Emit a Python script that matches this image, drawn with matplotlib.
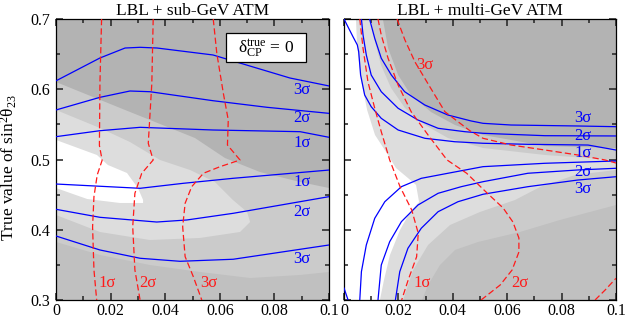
import matplotlib
matplotlib.use('Agg')
import matplotlib.pyplot as plt
from matplotlib.ticker import MultipleLocator
from matplotlib.patches import Rectangle

plt.rcParams['font.family'] = ['Liberation Serif', 'DejaVu Serif']
plt.rcParams['mathtext.fontset'] = 'custom'
plt.rcParams['mathtext.rm'] = 'Liberation Serif'
plt.rcParams['mathtext.it'] = 'Liberation Serif:italic'

# ---------------- left panel: LBL + sub-GeV ATM ----------------
# blue (solid) contours
sub_b3u_x = [0, 0.0161, 0.0253, 0.0308, 0.037, 0.0575, 0.0722, 0.0857, 0.1]
sub_b3u_y = [0.612, 0.6445, 0.6587, 0.6597, 0.6587, 0.6488, 0.6317, 0.616, 0.6047]
sub_b2u_x = [0, 0.0161, 0.0271, 0.0344, 0.0575, 0.0773, 0.1]
sub_b2u_y = [0.5705, 0.5885, 0.5975, 0.5965, 0.5837, 0.5743, 0.5657]
sub_b1u_x = [0, 0.0161, 0.0308, 0.0575, 0.0894, 0.1]
sub_b1u_y = [0.5325, 0.541, 0.5458, 0.542, 0.5396, 0.5316]
sub_b1l_x = [0, 0.0308, 0.0466, 0.0648, 0.1]
sub_b1l_y = [0.4651, 0.459, 0.4661, 0.4732, 0.485]
sub_b2l_x = [0, 0.0161, 0.0369, 0.0479, 0.0649, 0.1]
sub_b2l_y = [0.4291, 0.4177, 0.411, 0.4139, 0.4234, 0.4471]
sub_b3l_x = [0, 0.0161, 0.0308, 0.0454, 0.0649, 0.1]
sub_b3l_y = [0.3911, 0.3712, 0.3594, 0.3551, 0.358, 0.3783]

# red (dashed) contours
sub_r1_x = [0.0167, 0.0161, 0.0159, 0.0169, 0.0151, 0.0139, 0.0134, 0.0139, 0.0149]
sub_r1_y = [0.70, 0.61, 0.52, 0.499, 0.478, 0.447, 0.404, 0.343, 0.30]
sub_r2_x = [0.0356, 0.0351, 0.0338, 0.0356, 0.0314, 0.0289, 0.0281, 0.0289, 0.0308]
sub_r2_y = [0.70, 0.6085, 0.523, 0.4993, 0.4803, 0.4519, 0.4043, 0.3427, 0.30]
sub_r3_x = [0.0576, 0.0589, 0.0613, 0.0631, 0.0628, 0.0674, 0.0601, 0.054,
            0.0497, 0.0473, 0.0464, 0.0473, 0.0503, 0.0534]
sub_r3_y = [0.70, 0.6512, 0.5942, 0.5562, 0.5206, 0.4993, 0.4898, 0.4804,
            0.4613, 0.4377, 0.4043, 0.3617, 0.3332, 0.30]

# gray regions
sub_mid_x = [0, 0.0253, 0.0509, 0.0619, 0.0747, 0.0894, 0.1, 0.1, 0]
sub_mid_y = [0.6103, 0.5705, 0.5306, 0.5021, 0.4822, 0.468, 0.4594, 0.30, 0.30]
sub_low_x = [0, 0.0161, 0.0344, 0.0527, 0.0711, 0.0894, 0.1, 0.1, 0]
sub_low_y = [0.3826, 0.3641, 0.3498, 0.3399, 0.3313, 0.3356, 0.3399, 0.30, 0.30]
sub_light_x = [0, 0.0161, 0.0271, 0.0381, 0.0491, 0.0582, 0.0648, 0.070, 0.0711,
               0.0674, 0.0527, 0.0344, 0.0161, 0]
sub_light_y = [0.5705, 0.5448, 0.5249, 0.4993, 0.4851, 0.468, 0.4424, 0.4253, 0.411,
               0.3968, 0.3883, 0.3854, 0.3968, 0.421]
sub_white_x = [0, 0.015, 0.019, 0.026, 0.030, 0.0319, 0.0319, 0.0234, 0.0114, 0]
sub_white_y = [0.5278, 0.5064, 0.4922, 0.4808, 0.4594, 0.4424, 0.4381, 0.4381, 0.4438, 0.4594]

# contour labels
sub_blue_lab = ['3σ', '2σ', '1σ', '1σ', '2σ', '3σ']
sub_blue_lab_x = [0.0901] * 6
sub_blue_lab_y = [0.599, 0.559, 0.5235, 0.468, 0.4253, 0.3584]
sub_red_lab = ['1σ', '2σ', '3σ']
sub_red_lab_x = [0.0187, 0.0337, 0.056]
sub_red_lab_y = [0.3242, 0.3242, 0.3242]

# ---------------- right panel: LBL + multi-GeV ATM ----------------
mul_b1u_x = [0, 0.0033, 0.0049, 0.0054, 0.0061, 0.0076, 0.01, 0.0137, 0.0199,
             0.0297, 0.0407, 0.0511, 0.0676, 0.0897, 0.1]
mul_b1u_y = [0.70, 0.6748, 0.663, 0.6535, 0.6203, 0.5918, 0.5752, 0.5586, 0.542,
             0.5302, 0.5253, 0.5231, 0.5216, 0.5206, 0.5135]
mul_b2u_x = [0.0064, 0.007, 0.0082, 0.01, 0.0137, 0.0199, 0.0272, 0.0346, 0.0444,
             0.0511, 0.0738, 0.1]
mul_b2u_y = [0.70, 0.6772, 0.6488, 0.6203, 0.5965, 0.5729, 0.5562, 0.5444, 0.5396,
             0.5373, 0.5339, 0.5335]
mul_b3u_x = [0.0094, 0.0113, 0.0137, 0.0174, 0.0223, 0.0297, 0.0382, 0.0468, 0.0511,
             0.0614, 0.086, 0.1]
mul_b3u_y = [0.70, 0.6725, 0.6441, 0.6203, 0.5965, 0.5776, 0.5633, 0.5548, 0.5515,
             0.5491, 0.5477, 0.5467]
mul_b1l_x = [0.0058, 0.0064, 0.0082, 0.0113, 0.015, 0.0211, 0.0284, 0.0382, 0.0511,
             0.0738, 0.1]
mul_b1l_y = [0.30, 0.3403, 0.3783, 0.4163, 0.4399, 0.4613, 0.4732, 0.4804, 0.4898,
             0.4946, 0.4979]
mul_b2l_x = [0.0125, 0.0137, 0.0168, 0.0211, 0.0272, 0.0346, 0.0431, 0.0511, 0.0676,
             0.086, 0.1]
mul_b2l_y = [0.30, 0.3498, 0.383, 0.4115, 0.4352, 0.4519, 0.4613, 0.4684, 0.4804,
             0.4851, 0.4875]
mul_b3l_x = [0.0189, 0.0205, 0.0235, 0.0284, 0.0346, 0.0419, 0.0511, 0.0676, 0.086, 0.1]
mul_b3l_y = [0.30, 0.3403, 0.3736, 0.4021, 0.4257, 0.4399, 0.4505, 0.4613, 0.4708, 0.4755]
mul_bcorner_x = [0, 0.0015]
mul_bcorner_y = [0.317, 0.30]

mul_r1_x = [0.0058, 0.007, 0.0088, 0.0113, 0.0137, 0.0168, 0.0206, 0.0249, 0.0273,
            0.0267, 0.0236, 0.0212]
mul_r1_y = [0.70, 0.6583, 0.6107, 0.5729, 0.5396, 0.4993, 0.4613, 0.4281, 0.395,
            0.3616, 0.3285, 0.30]
mul_r2_x = [0.0125, 0.0137, 0.0162, 0.0199, 0.0247, 0.0309, 0.0379, 0.0451, 0.0526,
            0.0585, 0.0621, 0.0643, 0.0643, 0.0618, 0.0574, 0.0504]
mul_r2_y = [0.70, 0.6772, 0.6441, 0.606, 0.568, 0.5349, 0.4993, 0.4804, 0.4523,
            0.431, 0.411, 0.3883, 0.3683, 0.3427, 0.3213, 0.30]
mul_r3u_x = [0.0195, 0.0224, 0.0261, 0.0316, 0.0371, 0.0463, 0.0511, 0.0614, 0.0739,
             0.086, 0.096, 0.1]
mul_r3u_y = [0.70, 0.6701, 0.6388, 0.6032, 0.568, 0.5409, 0.5302, 0.5206, 0.5135,
             0.5064, 0.4993, 0.495]
mul_r3l_x = [0.0923, 0.096, 0.1]
mul_r3l_y = [0.30, 0.3142, 0.3309]

mul_mid_x = [0.0143, 0.0162, 0.0199, 0.0246, 0.032, 0.0408, 0.0511, 0.0739, 0.1,
             0.1, 0, 0]
mul_mid_y = [0.70, 0.6587, 0.6203, 0.5918, 0.5676, 0.5491, 0.5349, 0.5192, 0.5163,
             0.30, 0.30, 0.70]
mul_low_x = [0.1, 0.0794, 0.0647, 0.0493, 0.0408, 0.0353, 0.0309, 0.0287, 0.1]
mul_low_y = [0.4352, 0.4139, 0.3968, 0.3826, 0.3712, 0.3498, 0.3213, 0.30, 0.30]
mul_light_x = [0, 0.0099, 0.0114, 0.0136, 0.0173, 0.0224, 0.0298, 0.0382, 0.0511,
               0.0739, 0.1, 0.1, 0.0849, 0.0721, 0.0629, 0.05, 0.039, 0.0309, 0.0254,
               0.0217, 0]
mul_light_y = [0.70, 0.70, 0.6673, 0.6345, 0.6018, 0.5733, 0.5491, 0.5306, 0.5164,
               0.5064, 0.4993, 0.4851, 0.4779, 0.4609, 0.4424, 0.4253, 0.4068, 0.3783,
               0.3427, 0.30, 0.30]
mul_white_x = [0, 0.0044, 0.0048, 0.0063, 0.0085, 0.0114, 0.0162, 0.0191, 0.0235,
               0.0265, 0.0276, 0.0243, 0.0206, 0.0169, 0.0147, 0.0132, 0]
mul_white_y = [0.70, 0.70, 0.663, 0.6132, 0.5705, 0.5349, 0.5064, 0.4879, 0.4737,
               0.4637, 0.4395, 0.4253, 0.3997, 0.3641, 0.3285, 0.30, 0.30]

mul_blue_lab = ['3σ', '2σ', '1σ', '2σ', '3σ']
mul_blue_lab_x = [0.0879] * 5
mul_blue_lab_y = [0.5591, 0.5335, 0.5093, 0.4822, 0.458]
mul_red_lab = ['3σ', '1σ', '2σ']
mul_red_lab_x = [0.0297, 0.0286, 0.0647]
mul_red_lab_y = [0.6345, 0.3246, 0.3246]

xticks = [0, 0.02, 0.04, 0.06, 0.08, 0.1]
xtick_labels = ['0', '0.02', '0.04', '0.06', '0.08', '0.1']
yticks = [0.3, 0.4, 0.5, 0.6, 0.7]
ytick_labels = ['0.3', '0.4', '0.5', '0.6', '0.7']

c_dark = '#b3b3b3'
c_low = '#c0c0c0'
c_mid = '#cbcbcb'
c_light = '#dddddd'
blue = '#0000ff'
red = '#ff1a1a'

fig = plt.figure(figsize=(6.3, 3.19), dpi=100)
ax1 = fig.add_axes([56 / 630, 19 / 319, 273 / 630, 281 / 319])
ax2 = fig.add_axes([344 / 630, 19 / 319, 272 / 630, 281 / 319])


def style(ax, ylabels):
    ax.set_facecolor(c_dark)
    ax.set_xlim(0, 0.1)
    ax.set_ylim(0.3, 0.7)
    ax.set_xticks(xticks)
    ax.set_xticklabels(xtick_labels)
    ax.set_yticks(yticks)
    if ylabels:
        ax.set_yticklabels(ytick_labels)
    else:
        ax.set_yticklabels([])
    ax.xaxis.set_minor_locator(MultipleLocator(0.01))
    ax.yaxis.set_minor_locator(MultipleLocator(0.05))
    ax.tick_params(which='both', direction='in', top=True, right=True,
                   labelsize=11.5, width=1.1, color='#222222')
    ax.tick_params(which='major', length=5)
    ax.tick_params(axis='x', which='major', pad=2)
    ax.tick_params(axis='y', which='major', pad=4)
    ax.tick_params(which='minor', length=3)
    for s in ax.spines.values():
        s.set_linewidth(0.9)


def blue_line(ax, x, y):
    ax.plot(x, y, color=blue, lw=0.9, zorder=3)


def red_line(ax, x, y):
    ax.plot(x, y, color=red, lw=0.9, dashes=(5, 2.5), zorder=3)


style(ax1, True)
ax1.fill(sub_mid_x, sub_mid_y, color=c_mid, lw=0, zorder=0)
ax1.fill(sub_low_x, sub_low_y, color=c_low, lw=0, zorder=0)
ax1.fill(sub_light_x, sub_light_y, color=c_light, lw=0, zorder=0)
ax1.fill(sub_white_x, sub_white_y, color='white', lw=0, zorder=0)
for x, y in [(sub_b3u_x, sub_b3u_y), (sub_b2u_x, sub_b2u_y), (sub_b1u_x, sub_b1u_y),
             (sub_b1l_x, sub_b1l_y), (sub_b2l_x, sub_b2l_y), (sub_b3l_x, sub_b3l_y)]:
    blue_line(ax1, x, y)
for x, y in [(sub_r1_x, sub_r1_y), (sub_r2_x, sub_r2_y), (sub_r3_x, sub_r3_y)]:
    red_line(ax1, x, y)
for t, x, y in zip(sub_blue_lab, sub_blue_lab_x, sub_blue_lab_y):
    ax1.text(x, y, t, color=blue, fontsize=12, ha='center', va='center')
for t, x, y in zip(sub_red_lab, sub_red_lab_x, sub_red_lab_y):
    ax1.text(x, y, t, color=red, fontsize=12, ha='center', va='center')
ax1.add_patch(Rectangle((0.623, 0.847), 0.293, 0.103, transform=ax1.transAxes,
                        facecolor='white', edgecolor='black', lw=0.9, zorder=5))
ax1.text(0.769, 0.895, r'$\mathrm{δ}_{\mathrm{CP}}^{\mathrm{true}}$ = 0',
         transform=ax1.transAxes, fontsize=12.5, ha='center', va='center', zorder=6)
ax1.set_title('LBL + sub-GeV ATM', fontsize=12.5, pad=3)
ax1.set_ylabel('True value of sin$^2$θ$_{23}$', fontsize=12.5)
ax1.yaxis.set_label_coords(-0.135, 0.47)

style(ax2, False)
ax2.fill(mul_mid_x, mul_mid_y, color=c_mid, lw=0, zorder=0)
ax2.fill(mul_low_x, mul_low_y, color=c_low, lw=0, zorder=0)
ax2.fill(mul_light_x, mul_light_y, color=c_light, lw=0, zorder=0)
ax2.fill(mul_white_x, mul_white_y, color='white', lw=0, zorder=0)
for x, y in [(mul_b1u_x, mul_b1u_y), (mul_b2u_x, mul_b2u_y), (mul_b3u_x, mul_b3u_y),
             (mul_b1l_x, mul_b1l_y), (mul_b2l_x, mul_b2l_y), (mul_b3l_x, mul_b3l_y),
             (mul_bcorner_x, mul_bcorner_y)]:
    blue_line(ax2, x, y)
for x, y in [(mul_r1_x, mul_r1_y), (mul_r2_x, mul_r2_y), (mul_r3u_x, mul_r3u_y),
             (mul_r3l_x, mul_r3l_y)]:
    red_line(ax2, x, y)
for t, x, y in zip(mul_blue_lab, mul_blue_lab_x, mul_blue_lab_y):
    ax2.text(x, y, t, color=blue, fontsize=12, ha='center', va='center')
for t, x, y in zip(mul_red_lab, mul_red_lab_x, mul_red_lab_y):
    ax2.text(x, y, t, color=red, fontsize=12, ha='center', va='center')
ax2.set_title('LBL + multi-GeV ATM', fontsize=12.5, pad=3)

fig.savefig('out.png', dpi=100)
